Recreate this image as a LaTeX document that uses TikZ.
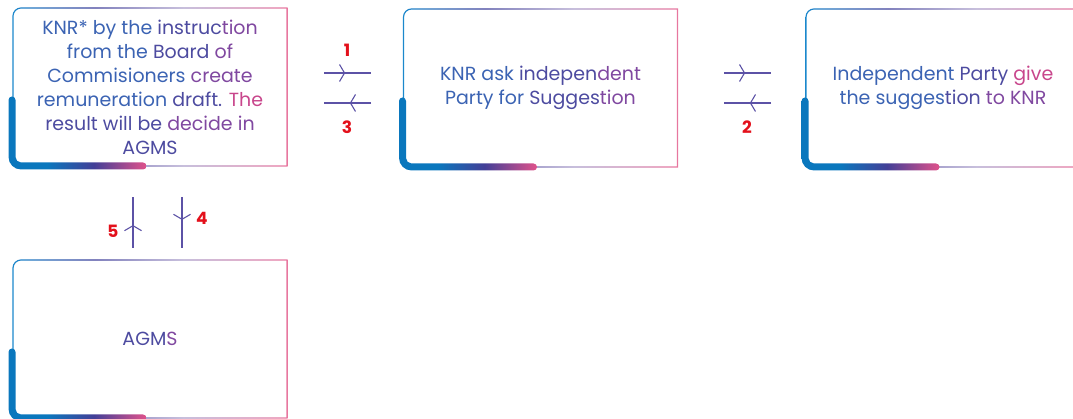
\documentclass[tikz,border=0pt]{standalone}
\usepackage{fontspec}
\setmainfont{Poppins}
\usetikzlibrary{arrows.meta,decorations.markings}

% frame and text colours
\definecolor{frmblue}{HTML}{1B88CC}
\definecolor{frmindigo}{HTML}{3F3F9A}
\definecolor{frmlav}{HTML}{A99CC9}
\definecolor{frmpink}{HTML}{E8779F}
\definecolor{barblue}{HTML}{0A77BD}
\definecolor{barindigo}{HTML}{433F97}
\definecolor{barpink}{HTML}{E0528B}
\definecolor{tA}{HTML}{3B63B3}
\definecolor{tB}{HTML}{4D4BA0}
\definecolor{tC}{HTML}{8048A0}
\definecolor{tD}{HTML}{C8468C}
\definecolor{lnkcol}{HTML}{5C52A6}
\definecolor{numred}{HTML}{E3101B}

\pgfdeclarehorizontalshading{knrframe}{100bp}{color(0bp)=(frmblue); color(25bp)=(frmblue); color(40bp)=(frmindigo); color(56bp)=(frmlav); color(75bp)=(frmpink); color(100bp)=(frmpink)}
\pgfdeclarehorizontalshading{knrbar}{100bp}{color(0bp)=(barblue); color(39bp)=(barblue); color(56bp)=(barindigo); color(75bp)=(barpink); color(100bp)=(barpink)}

\tikzset{
  knrbox/.style={minimum width=274pt, minimum height=158pt, inner sep=0pt, outer sep=0pt, align=center, font=\fontsize{19}{24}\selectfont},
  knrlink/.style={draw=lnkcol, line width=1.1pt, postaction=decorate,
    decoration={markings, mark=at position 0.45 with {\arrow{Straight Barb[length=5pt,width=17pt]}}}},
  stepnum/.style={text=numred, font=\fontsize{17}{17}\selectfont\bfseries},
}

% thin outline plus thick corner bar round a box node
\newcommand{\knrframe}[1]{%
  \begin{scope}[shift={(#1.south west)}]
    \shade[shading=knrframe, even odd rule]
      (-0.6,9) arc[start angle=180,end angle=270,radius=9.6] -- (274.6,-0.6) -- (274.6,158.6)
      -- (8,158.6) arc[start angle=90,end angle=180,radius=8.6] -- cycle
      (0.6,9) arc[start angle=180,end angle=270,radius=8.4] -- (273.4,0.6) -- (273.4,157.4)
      -- (8,157.4) arc[start angle=90,end angle=180,radius=7.4] -- cycle;
    \shade[shading=knrbar]
      (-4.5,66) -- (-4.5,9) arc[start angle=180,end angle=270,radius=12.5] -- (130,-3.5)
      arc[start angle=-90,end angle=90,radius=3.5] -- (8,3.5)
      arc[start angle=270,end angle=180,radius=5.5] -- (2.5,66)
      arc[start angle=0,end angle=180,radius=3.5] -- cycle;
  \end{scope}}

\begin{document}
\begin{tikzpicture}[x=1pt,y=1pt]
  \useasboundingbox (0,0) rectangle (1073,419);
  \clip (0,0) rectangle (1073,419);
  % boxes
  \node[knrbox] (draft) at (150,332) {\color{tA}KNR* by the \color{tB}instruc\color{tC}tion\\
    \color{tA}from the \color{tB}Board \color{tC}of\\
    \color{tA}Commisioners \color{tC}create\\
    \color{tA}remuneration \color{tB}draft. \color{tD}The\\
    \color{tB}result will be \color{tC}decide in\\
    \color{tB}AGMS};
  \node[knrbox] (ask) at (540.5,331) {\color{tA}KNR ask \color{tB}indepen\color{tC}dent\\
    \color{tA}Party for \color{tB}Sugges\color{tC}tion};
  \node[knrbox] (give) at (943,331) {\color{tA}Independent \color{tB}Party \color{tD}give\\
    \color{tA}the sugges\color{tB}tion \color{tC}to KNR};
  \node[knrbox] (agms) at (150,80) {\color{tB}AGM\color{tC}S};
  \knrframe{draft}
  \knrframe{ask}
  \knrframe{give}
  \knrframe{agms}
  % link ends
  \coordinate (l1a) at (324,346);
  \coordinate (l1b) at (371,346);
  \coordinate (l3a) at (371,316);
  \coordinate (l3b) at (324,316);
  \coordinate (l2a) at (724,346);
  \coordinate (l2b) at (771,346);
  \coordinate (l2c) at (771,316);
  \coordinate (l2d) at (724,316);
  \coordinate (l5a) at (133,171);
  \coordinate (l5b) at (133,222);
  \coordinate (l4a) at (182,222);
  \coordinate (l4b) at (182,171);
  % links
  \draw[knrlink] (l1a) -- (l1b);
  \draw[knrlink] (l3a) -- (l3b);
  \draw[knrlink] (l2a) -- (l2b);
  \draw[knrlink] (l2c) -- (l2d);
  \draw[knrlink] (l5a) -- (l5b);
  \draw[knrlink] (l4a) -- (l4b);
  % step numbers
  \node[stepnum] (n1) at (347,369) {1};
  \node[stepnum] (n3) at (347,292) {3};
  \node[stepnum] (n2) at (747,292) {2};
  \node[stepnum] (n5) at (113,188) {5};
  \node[stepnum] (n4) at (202,201) {4};
\end{tikzpicture}
\end{document}
